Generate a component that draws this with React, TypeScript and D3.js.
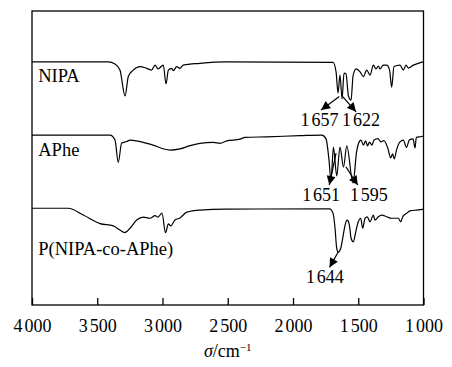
import { useEffect, useRef } from "react"
import * as d3 from "d3"

// wavenumber (cm-1), offset transmittance (arbitrary units 0-100)
const nipa: [number, number][] = [
  [4000, 82.7], [3415, 82.7], [3364, 82.0], [3326, 79.9], [3287, 71.1], [3262, 77.7],
  [3224, 79.9], [3172, 81.1], [3121, 80.5], [3083, 79.9], [3057, 81.6], [3034, 80.3],
  [2994, 81.6], [2973, 75.2], [2955, 79.9], [2929, 80.5], [2917, 79.7], [2891, 81.1],
  [2866, 80.5], [2841, 81.6], [2713, 82.2], [2513, 82.7], [1693, 82.5], [1670, 79.3],
  [1655, 72.1], [1640, 78.2], [1624, 70.1], [1609, 78.9], [1594, 78.6], [1575, 71.1],
  [1555, 69.7], [1540, 77.9], [1517, 80.3], [1486, 79.3], [1461, 77.7], [1435, 79.9],
  [1410, 78.2], [1384, 81.6], [1364, 80.3], [1346, 81.3], [1333, 80.3], [1308, 81.6],
  [1282, 81.6], [1260, 79.9], [1244, 74.1], [1226, 81.1], [1180, 81.6], [1155, 79.9],
  [1134, 81.6], [1116, 80.6], [1078, 81.6], [1040, 82.2], [1000, 82.8],
]

const aphe: [number, number][] = [
  [4000, 57.8], [3402, 57.8], [3364, 56.1], [3339, 48.5], [3313, 55.1], [3274, 55.6],
  [3249, 56.1], [3096, 54.7], [2942, 52.7], [2866, 53.1], [2789, 54.2], [2713, 55.0],
  [2611, 55.3], [2559, 55.0], [2508, 55.8], [2406, 56.4], [2368, 57.0], [2201, 57.2],
  [1946, 57.6], [1778, 57.8], [1747, 56.5], [1724, 49.3], [1709, 42.2], [1690, 53.7],
  [1665, 43.9], [1640, 53.7], [1613, 46.9], [1588, 54.1], [1540, 41.5], [1513, 52.0],
  [1494, 55.4], [1479, 56.1], [1460, 54.4], [1444, 55.8], [1429, 54.1], [1414, 55.4],
  [1395, 54.4], [1379, 56.1], [1349, 56.6], [1326, 55.5], [1303, 55.9], [1274, 53.4],
  [1251, 50.0], [1237, 51.4], [1224, 49.7], [1207, 52.7], [1180, 55.5], [1155, 56.1],
  [1130, 53.6], [1109, 56.1], [1080, 56.5], [1065, 53.4], [1055, 57.0], [1014, 57.3],
  [1000, 57.5],
]

const copolymer: [number, number][] = [
  [4000, 32.9], [3722, 32.9], [3607, 30.6], [3479, 27.7], [3377, 26.9], [3326, 25.5],
  [3291, 24.6], [3249, 26.1], [3198, 28.9], [3147, 29.9], [3096, 29.5], [3057, 30.4],
  [3034, 29.9], [3004, 31.3], [2977, 24.6], [2955, 27.6], [2937, 26.9], [2904, 28.9],
  [2866, 29.6], [2814, 31.6], [2713, 32.3], [2513, 32.6], [1720, 32.7], [1693, 31.2],
  [1678, 26.2], [1665, 19.3], [1653, 18.0], [1634, 19.3], [1619, 22.7], [1601, 27.2],
  [1584, 28.9], [1568, 27.2], [1555, 22.7], [1538, 21.5], [1519, 24.9], [1500, 28.3],
  [1481, 29.5], [1466, 26.1], [1448, 29.5], [1431, 30.0], [1410, 28.3], [1384, 30.6],
  [1372, 28.9], [1346, 30.0], [1320, 30.6], [1282, 30.0], [1244, 29.5], [1193, 29.5],
  [1175, 28.3], [1159, 30.0], [1129, 31.2], [1103, 32.0], [1052, 32.3], [1000, 32.6],
]

const seriesNames = ["NIPA", "APhe", "P(NIPA-co-APhe)"]
const seriesLabelPos: [number, number][] = [[3952, 76.0], [3952, 50.7], [3952, 17.0]]

// arrows: [tailWn, tailU, tipWn, tipU]
const arrows: [number, number, number, number][] = [
  [1645, 70.9, 1785, 66.3],
  [1619, 70.9, 1517, 65.7],
  [1670, 51.7, 1722, 40.8],
  [1594, 47.0, 1504, 40.8],
  [1653, 18.1, 1720, 12.8],
]
const peakLabels = ["1657", "1622", "1651", "1595", "1644"]
const peakLabelPos: [number, number][] = [[1797, 60.9], [1479, 60.9], [1785, 35.4], [1418, 35.4], [1755, 7.4]]

const xTicks = [4000, 3500, 3000, 2500, 2000, 1500, 1000]

const W = 452
const H = 367
const FONT = "'Liberation Serif', 'Times New Roman', serif"

// thousands digit, then a small gap, then the rest
function splitNumber(sel: d3.Selection<SVGTextElement, unknown, null, undefined>, s: string) {
  sel.text(null)
  sel.append("tspan").text(s.slice(0, 1))
  sel.append("tspan").attr("dx", 1.8).text(s.slice(1))
}

export default function App() {
  const svgRef = useRef<SVGSVGElement>(null)

  useEffect(() => {
    if (!svgRef.current) return
    const svg = d3.select(svgRef.current)
    svg.selectAll("*").remove()

    const left = 32
    const right = 423.5
    const top = 11
    const bottom = 305

    const x = d3.scaleLinear().domain([4000, 1000]).range([left, right])
    const y = d3.scaleLinear().domain([0, 100]).range([bottom, top])

    svg
      .append("defs")
      .append("marker")
      .attr("id", "head")
      .attr("viewBox", "0 0 10 10")
      .attr("refX", 10)
      .attr("refY", 5)
      .attr("markerWidth", 10)
      .attr("markerHeight", 9)
      .attr("markerUnits", "userSpaceOnUse")
      .attr("orient", "auto")
      .append("path")
      .attr("d", "M0,0 L10,5 L0,10 Z")
      .attr("fill", "#000")

    const line = d3
      .line<[number, number]>()
      .x((d) => x(d[0]))
      .y((d) => y(d[1]))
      .curve(d3.curveMonotoneX)

    ;[nipa, aphe, copolymer].forEach((s) => {
      svg
        .append("path")
        .datum(s)
        .attr("fill", "none")
        .attr("stroke", "#000")
        .attr("stroke-width", 1.2)
        .attr("stroke-linejoin", "round")
        .attr("d", line)
    })

    // frame
    svg
      .append("rect")
      .attr("x", left)
      .attr("y", top)
      .attr("width", right - left)
      .attr("height", bottom - top)
      .attr("fill", "none")
      .attr("stroke", "#000")
      .attr("stroke-width", 1.3)

    const axis = svg
      .append("g")
      .attr("transform", `translate(0,${bottom})`)
      .call(
        d3
          .axisBottom(x)
          .tickValues(xTicks)
          .tickSizeInner(-7)
          .tickSizeOuter(0)
          .tickPadding(14)
          .tickFormat((d) => String(d))
      )
    axis.select(".domain").remove()
    axis.selectAll("line").attr("stroke", "#000").attr("stroke-width", 1.3)
    axis
      .selectAll<SVGTextElement, number>("text")
      .attr("fill", "#000")
      .style("font-family", FONT)
      .style("font-size", "18px")
      .each(function (d) {
        splitNumber(d3.select(this) as any, String(d))
      })

    const title = svg
      .append("text")
      .attr("x", (left + right) / 2)
      .attr("y", 356.5)
      .attr("text-anchor", "middle")
      .style("font-family", FONT)
      .style("font-size", "18px")
    title.append("tspan").attr("font-style", "italic").text("σ")
    title.append("tspan").text("/cm")
    title.append("tspan").attr("dy", -6).style("font-size", "11px").text("\u22121")

    seriesNames.forEach((name, i) => {
      svg
        .append("text")
        .attr("x", x(seriesLabelPos[i][0]))
        .attr("y", y(seriesLabelPos[i][1]))
        .style("font-family", FONT)
        .style("font-size", "18.5px")
        .text(name)
    })

    arrows.forEach((a) => {
      svg
        .append("line")
        .attr("x1", x(a[0]))
        .attr("y1", y(a[1]))
        .attr("x2", x(a[2]))
        .attr("y2", y(a[3]))
        .attr("stroke", "#000")
        .attr("stroke-width", 1.2)
        .attr("marker-end", "url(#head)")
    })

    peakLabels.forEach((t, i) => {
      const el = svg
        .append("text")
        .attr("x", x(peakLabelPos[i][0]))
        .attr("y", y(peakLabelPos[i][1]))
        .attr("text-anchor", "middle")
        .style("font-family", FONT)
        .style("font-size", "18px")
      splitNumber(el as any, t)
    })
  }, [])

  return (
    <div style={{ position: "fixed", left: 0, top: 0, background: "#fff" }}>
      <svg ref={svgRef} width={W} height={H} style={{ display: "block" }} />
    </div>
  )
}
